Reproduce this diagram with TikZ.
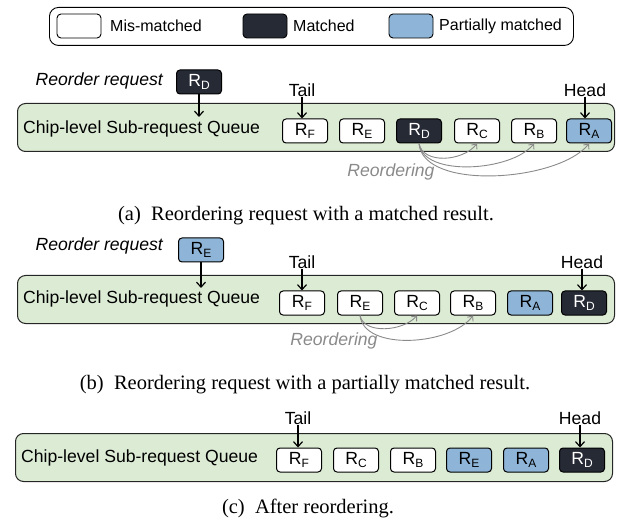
\documentclass[tikz,border=0pt]{standalone}
\usepackage{fontspec}
\setmainfont{Liberation Serif}
\setsansfont{Liberation Sans}
\usetikzlibrary{arrows.meta}
\definecolor{qgreen}{HTML}{DCEBD4}
\definecolor{mdark}{HTML}{262A35}
\definecolor{pblue}{HTML}{8EB5D8}
\definecolor{arcgrey}{HTML}{8A8A8A}
\newcommand{\sfz}{\fontsize{17.6}{20}\selectfont\sffamily}
\newcommand{\Rsub}[1]{R\raisebox{-3.8pt}{\fontsize{12}{12}\selectfont #1}}
\tikzset{
  qbox/.style={draw=black, rounded corners=3.5pt, line width=1pt, minimum width=45pt, minimum height=24pt, inner sep=0pt, font=\sfz},
  mis/.style={qbox, fill=white},
  mat/.style={qbox, fill=mdark, text=white},
  par/.style={qbox, fill=pblue},
  swatch/.style={draw=black, rounded corners=4pt, line width=0.9pt, minimum width=44pt, minimum height=24pt, inner sep=0pt},
  queue/.style={draw=black!85, fill=qgreen, rounded corners=8pt, line width=1pt, minimum width=597pt, minimum height=48pt, anchor=north west, inner sep=0pt},
  lbl/.style={font=\sfz, inner sep=0pt},
  leglbl/.style={font=\fontsize{16}{18}\selectfont\sffamily, inner sep=0pt, anchor=west},
  ilbl/.style={font=\sfz\itshape, inner sep=0pt},
  blk/.style={-{Straight Barb[length=5pt,width=9pt]}, line width=1.2pt},
  reo/.style={draw=arcgrey, line width=0.9pt, -{Straight Barb[length=4pt,width=7pt]}},
  captxt/.style={font=\fontsize{20.5}{23}\selectfont, inner sep=0pt}
}
\begin{document}
\begin{tikzpicture}[x=1pt, y=-1pt]
\useasboundingbox (0,0) rectangle (623,518);
% legend
\node[draw=black, rounded corners=9pt, line width=0.9pt, minimum width=524pt, minimum height=38pt, anchor=north west, inner sep=0pt] (leg) at (49,7) {};
\node[swatch, fill=white] (lw) at (79,26) {};
\node[leglbl] (lwt) at (110,26) {Mis-matched};
\node[swatch, fill=mdark] (ld) at (265,26) {};
\node[leglbl] (ldt) at (293,26) {Matched};
\node[swatch, fill=pblue] (lb) at (411,26) {};
\node[leglbl] (lbt) at (439,26) {Partially matched};

% ---------- panel (a)
\node[ilbl, anchor=east] (rra) at (163,81) {Reorder request};
\node[mat] (reqD) at (199,82) {\Rsub{D}};
\node[queue] (qa) at (17,103) {};
\node[lbl, anchor=west] (qat) at (23,129) {Chip-level Sub-request Queue};
\node[mis] (aF) at (305,131) {\Rsub{F}};
\node[mis] (aE) at (362,131) {\Rsub{E}};
\node[mat] (aD) at (419,131) {\Rsub{D}};
\node[mis] (aC) at (477,131) {\Rsub{C}};
\node[mis] (aB) at (534,131) {\Rsub{B}};
\node[par] (aA) at (589,131) {\Rsub{A}};
\coordinate (aIn) at (199,117);
\draw[blk] (reqD.south) -- (aIn);
\node[lbl] (aTail) at (302,90) {Tail};
\node[lbl] (aHead) at (585,90) {Head};
\draw[blk] (aTail.south) -- (aTail.south |- aF.north);
\draw[blk] (aHead.south) -- (aHead.south |- aA.north);
\draw[reo] (aD.south) .. controls +(4,21) and +(-14,18) .. (aC.south);
\draw[reo] (aD.south) .. controls +(4,34) and +(-22,28) .. (aB.south);
\draw[reo] (aD.south) .. controls +(4,48) and +(-30,38) .. (aA.south);
\node[ilbl, text=arcgrey] (aReo) at (391,172) {Reordering};
\node[captxt] (capa) at (306,216) {(a)\hspace{0.5em}Reordering request with a matched result.};

% ---------- panel (b)
\node[ilbl, anchor=east] (rrb) at (163,246) {Reorder request};
\node[par] (reqE) at (201,250) {\Rsub{E}};
\node[queue] (qb) at (17,275) {};
\node[lbl, anchor=west] (qbt) at (23,299) {Chip-level Sub-request Queue};
\node[mis] (bF) at (302,303) {\Rsub{F}};
\node[mis] (bE) at (360,303) {\Rsub{E}};
\node[mis] (bC) at (417,303) {\Rsub{C}};
\node[mis] (bB) at (473,303) {\Rsub{B}};
\node[par] (bA) at (530,303) {\Rsub{A}};
\node[mat] (bD) at (584,303) {\Rsub{D}};
\coordinate (bIn) at (201,288);
\draw[blk] (reqE.south) -- (bIn);
\node[lbl] (bTail) at (302,262) {Tail};
\node[lbl] (bHead) at (582,262) {Head};
\draw[blk] (bTail.south) -- (bTail.south |- bF.north);
\draw[blk] (bHead.south) -- (bHead.south |- bD.north);
\draw[reo] (bE.south) .. controls +(4,19) and +(-14,16) .. (bC.south);
\draw[reo] (bE.south) .. controls +(4,36) and +(-22,30) .. (bB.south);
\node[ilbl, text=arcgrey] (bReo) at (334,341) {Reordering};
\node[captxt] (capb) at (305,385) {(b)\hspace{0.5em}Reordering request with a partially matched result.};

% ---------- panel (c)
\node[queue] (qc) at (15,433) {};
\node[lbl, anchor=west] (qct) at (21,458) {Chip-level Sub-request Queue};
\node[mis] (cF) at (299,460) {\Rsub{F}};
\node[mis] (cC) at (356,460) {\Rsub{C}};
\node[mis] (cB) at (413,460) {\Rsub{B}};
\node[par] (cE) at (469,460) {\Rsub{E}};
\node[par] (cA) at (526,460) {\Rsub{A}};
\node[mat] (cD) at (582,460) {\Rsub{D}};
\node[lbl] (cTail) at (298,418) {Tail};
\node[lbl] (cHead) at (580,418) {Head};
\draw[blk] (cTail.south) -- (cTail.south |- cF.north);
\draw[blk] (cHead.south) -- (cHead.south |- cD.north);
\node[captxt] (capc) at (308,508) {(c)\hspace{0.5em}After reordering.};
\end{tikzpicture}
\end{document}
